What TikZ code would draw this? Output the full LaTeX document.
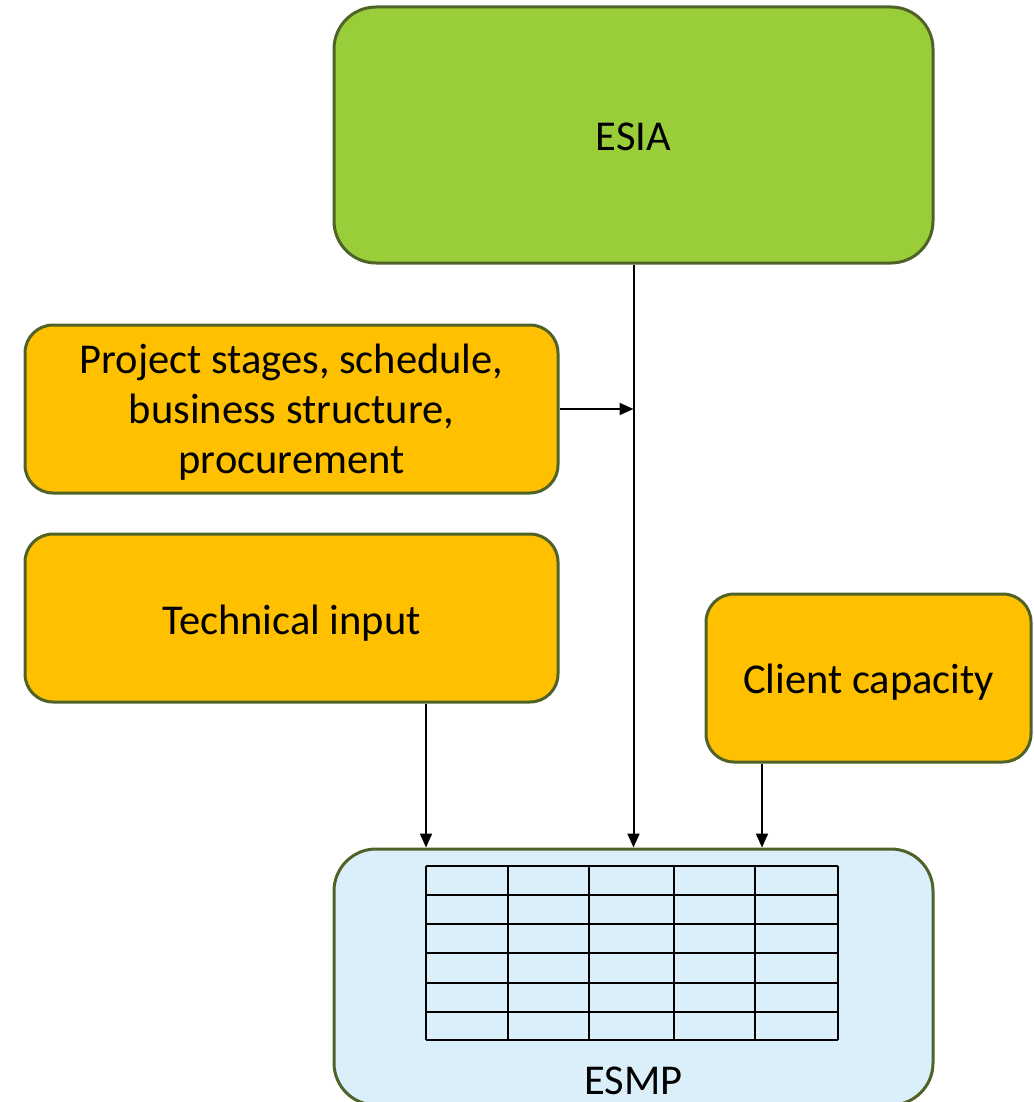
\documentclass[tikz,border=0pt]{standalone}
\usepackage{fontspec}
\setmainfont{Carlito}
\usetikzlibrary{arrows.meta}
\definecolor{edgegreen}{HTML}{4F6228}
\definecolor{esiagreen}{HTML}{9ACD3A}
\definecolor{inputorange}{HTML}{FFC000}
\definecolor{planblue}{HTML}{DAEFF9}
\newcommand{\lowered}[2]{\raisebox{-#1}[\height][\depth]{#2}}
\tikzset{
  textstyle/.style={font=\fontsize{42.5}{50}\selectfont},
  box/.style={draw=edgegreen, line width=3pt, rectangle, inner sep=0pt, align=center, textstyle},
  bigbox/.style={box, minimum width=599pt, minimum height=256pt, rounded corners=42pt},
  inbox/.style={box, fill=inputorange, minimum height=168pt, rounded corners=28pt},
  flow/.style={line width=2pt, -{Triangle[length=14pt,width=12pt]}},
  grid line/.style={line width=2pt}
}
\begin{document}
\begin{tikzpicture}[x=1pt, y=-1pt]
  \useasboundingbox (0,0) rectangle (1033,1102);
  \clip (0,0) rectangle (1033,1102);

  % main documents
  \node[bigbox, fill=esiagreen] (esia) at (633.5,135) {\lowered{2pt}{ESIA}};
  \node[bigbox, fill=planblue] (esmp) at (633.5,977) {};
  \node[textstyle, anchor=base] (esmplabel) at (633.5,1094) {ESMP};

  % inputs
  \node[inbox, minimum width=533pt] (proj) at (291.5,409)
    {\lowered{4pt}{\begin{tabular}{@{}c@{}}Project stages, schedule,\\business structure,\\procurement\end{tabular}}};
  \node[inbox, minimum width=533pt] (tech) at (291.5,618) {\lowered{5pt}{Technical input}};
  \node[inbox, minimum width=325pt] (client) at (868.5,678) {\lowered{4pt}{Client capacity}};

  % table inside the ESMP
  \foreach \y in {866,895,924,953,983,1012,1040}
    \draw[grid line] (426,\y) -- (838,\y);
  \foreach \x in {426,508,589,674,755,838}
    \draw[grid line] (\x,866) -- (\x,1040);

  % connectors
  \coordinate (join) at (esia.south |- proj.east);
  \draw[flow] (esia.south) -- (esia.south |- esmp.north);
  \draw[flow] (proj.east) -- (join);
  \draw[flow] (tech.south -| 426,0) -- (426,0 |- esmp.north);
  \draw[flow] (client.south -| 762,0) -- (762,0 |- esmp.north);
\end{tikzpicture}
\end{document}
